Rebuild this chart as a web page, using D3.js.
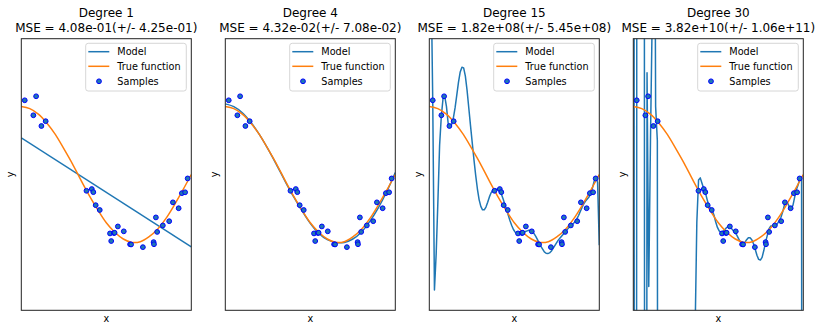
<!DOCTYPE html>
<html>
<head>
<meta charset="utf-8">
<script src="https://cdn.jsdelivr.net/npm/d3@7"></script>
<style>
  body { margin: 0; background: #fff; }
  svg { display: block; font-family: "DejaVu Sans", sans-serif; }
</style>
</head>
<body>
<svg id="chart" width="821" height="331"></svg>
<script>
// Noisy samples of the target function
const sampleX = [0.0202, 0.0710, 0.0871, 0.1183, 0.1434, 0.3834, 0.4147, 0.4237, 0.4376, 0.4615,
                 0.5218, 0.5289, 0.5449, 0.5488, 0.5680, 0.6028, 0.6399, 0.6459, 0.7152, 0.7782,
                 0.7805, 0.7917, 0.7992, 0.8326, 0.8700, 0.8918, 0.9256, 0.9447, 0.9637, 0.9786];
const sampleY = [1.093, 0.872, 1.152, 0.714, 0.785, -0.240, -0.214, -0.260, -0.452, -0.523,
                 -0.868, -0.980, -0.862, -0.858, -0.765, -0.837, -1.028, -1.030, -1.070, -0.996,
                 -1.027, -0.632, -0.846, -0.750, -0.688, -0.410, -0.497, -0.275, -0.262, -0.058];

// Panel titles
const degrees = [1, 4, 15, 30];
const mseMean = ["4.08e-01", "4.32e-02", "1.82e+08", "3.82e+10"];
const mseStd  = ["4.25e-01", "7.08e-02", "5.45e+08", "1.06e+11"];

// Smooth curves, read at x = 0, 0.05, ..., 1
const smoothX = [0, 0.05, 0.1, 0.15, 0.2, 0.25, 0.3, 0.35, 0.4, 0.45, 0.5,
                 0.55, 0.6, 0.65, 0.7, 0.75, 0.8, 0.85, 0.9, 0.95, 1];
const trueY = [1.00, 0.97, 0.89, 0.76, 0.59, 0.38, 0.16, -0.08, -0.31, -0.52, -0.71,
               -0.85, -0.95, -1.00, -0.99, -0.92, -0.81, -0.65, -0.45, -0.23, 0.00];
const model4Y = [1.04, 1.00, 0.91, 0.77, 0.59, 0.38, 0.15, -0.09, -0.32, -0.53, -0.72,
                 -0.87, -0.96, -1.00, -1.00, -0.95, -0.85, -0.69, -0.49, -0.25, 0.03];

// Degree 1: straight line end points
const model1X = [0, 1];
const model1Y = [0.541, -1.066];

// High-degree models, read on 100 evenly spaced test points
const model15Y = [
  6.0, 3.0, 1.1, -1.70, -1.17, -0.40, 0.43, 0.86, 1.12, 1.15,
  1.00, 0.75, 0.70, 0.74, 0.83, 0.98, 1.17, 1.36, 1.51, 1.58,
  1.57, 1.45, 1.24, 0.98, 0.72, 0.47, 0.22, -0.01, -0.21, -0.37,
  -0.47, -0.52, -0.52, -0.48, -0.41, -0.33, -0.27, -0.23, -0.215, -0.215,
  -0.23, -0.25, -0.29, -0.36, -0.44, -0.52, -0.60, -0.68, -0.75, -0.81,
  -0.85, -0.87, -0.875, -0.87, -0.86, -0.85, -0.84, -0.83, -0.82, -0.82,
  -0.84, -0.87, -0.91, -0.96, -1.01, -1.06, -1.10, -1.14, -1.16, -1.165,
  -1.155, -1.13, -1.09, -1.05, -1.01, -0.97, -0.94, -0.91, -0.88, -0.85,
  -0.82, -0.79, -0.77, -0.75, -0.72, -0.69, -0.65, -0.60, -0.54, -0.48,
  -0.43, -0.39, -0.36, -0.33, -0.28, -0.20, -0.10, -0.03, -0.12, -1.04
];
const model30Y = [
  40, -40, 1.1, 80, 300, 300, 30, -30, 1.5, -1.65,
  0.5, 2.3, 8, 1.0, 0.5, -30, -200, -300, -300, -300,
  -300, -300, -300, -300, -300, -300, -300, -300, -300, -300,
  -200, -120, -60, -30, -14, -6, -2.3, -0.7, -0.08, -0.05,
  -0.13, -0.21, -0.27, -0.37, -0.46, -0.50, -0.53, -0.60, -0.70, -0.78,
  -0.83, -0.85, -0.84, -0.82, -0.79, -0.77, -0.77, -0.79, -0.82, -0.85,
  -0.88, -0.93, -0.98, -1.01, -1.02, -1.00, -0.96, -0.93, -0.93, -0.96,
  -1.02, -1.10, -1.19, -1.25, -1.26, -1.22, -1.12, -1.00, -0.90, -0.80,
  -0.76, -0.76, -0.77, -0.76, -0.72, -0.68, -0.63, -0.55, -0.45, -0.41,
  -0.43, -0.48, -0.50, -0.45, -0.33, -0.22, -0.15, -0.06, -0.04, -40
];
const testX = d3.range(100).map(i => i / 99);

const legendLabels = ["Model", "True function", "Samples"];

const modelColor = "#1f77b4";
const trueColor = "#ff7f0e";

const panels = [
  { xs: model1X, ys: model1Y, curve: d3.curveLinear },
  { xs: smoothX, ys: model4Y, curve: d3.curveCatmullRom },
  { xs: testX,   ys: model15Y, curve: d3.curveLinear },
  { xs: testX,   ys: model30Y, curve: d3.curveLinear }
];

const svg = d3.select("#chart");
const plotTop = 38.7, plotH = 271.6, plotW = 170, firstLeft = 21.3, step = 204;

panels.forEach((p, i) => {
  const left = firstLeft + i * step;
  const x = d3.scaleLinear().domain([0, 1]).range([left, left + plotW]);
  const y = d3.scaleLinear().domain([-2, 2]).range([plotTop + plotH, plotTop]);
  const g = svg.append("g");

  const clipId = "clip" + i;
  g.append("clipPath").attr("id", clipId)
    .append("rect").attr("x", left).attr("y", plotTop).attr("width", plotW).attr("height", plotH);

  const plot = g.append("g").attr("clip-path", `url(#${clipId})`);

  const modelLine = d3.line().x((d, k) => x(p.xs[k])).y(d => y(d)).curve(p.curve);
  plot.append("path").attr("d", modelLine(p.ys))
    .attr("fill", "none").attr("stroke", modelColor).attr("stroke-width", 1.5)
    .attr("stroke-linejoin", "round");

  const trueLine = d3.line().x((d, k) => x(smoothX[k])).y(d => y(d)).curve(d3.curveCatmullRom);
  plot.append("path").attr("d", trueLine(trueY))
    .attr("fill", "none").attr("stroke", trueColor).attr("stroke-width", 1.5);

  plot.selectAll("circle").data(sampleY).join("circle")
    .attr("cx", (d, k) => x(sampleX[k])).attr("cy", d => y(d)).attr("r", 2.4)
    .attr("fill", modelColor).attr("stroke", "#0000ff").attr("stroke-width", 1);

  // frame
  g.append("rect").attr("x", left).attr("y", plotTop).attr("width", plotW).attr("height", plotH)
    .attr("fill", "none").attr("stroke", "#222").attr("stroke-width", 1);

  // titles
  const cx = left + plotW / 2;
  g.append("text").attr("x", cx).attr("y", 17.2).attr("text-anchor", "middle")
    .attr("font-size", 12).attr("fill", "#000").text("Degree " + degrees[i]);
  g.append("text").attr("x", cx).attr("y", 32).attr("text-anchor", "middle")
    .attr("font-size", 12).attr("fill", "#000")
    .text(`MSE = ${mseMean[i]}(+/- ${mseStd[i]})`);

  // axis labels
  g.append("text").attr("x", cx).attr("y", 321.5).attr("text-anchor", "middle")
    .attr("font-size", 9.7).attr("fill", "#000").text("x");
  g.append("text").attr("transform", `translate(${left - 7.5},${plotTop + plotH / 2}) rotate(-90)`)
    .attr("text-anchor", "middle").attr("font-size", 9.7).attr("fill", "#000").text("y");

  // legend
  const lx = left + 64.4, ly = 43.3;
  const lg = g.append("g");
  lg.append("rect").attr("x", lx).attr("y", ly).attr("width", 100.6).attr("height", 47.7)
    .attr("rx", 2.5).attr("fill", "#fff").attr("fill-opacity", 0.8)
    .attr("stroke", "#ccc").attr("stroke-width", 0.8);
  const rowY = [51.7, 66.3, 81.3];
  [modelColor, trueColor].forEach((c, k) => {
    lg.append("line").attr("x1", left + 67).attr("x2", left + 88)
      .attr("y1", rowY[k]).attr("y2", rowY[k])
      .attr("stroke", c).attr("stroke-width", 1.5);
  });
  lg.append("circle").attr("cx", left + 77.7).attr("cy", rowY[2]).attr("r", 2.4)
    .attr("fill", modelColor).attr("stroke", "#0000ff").attr("stroke-width", 1);
  legendLabels.forEach((t, k) => {
    lg.append("text").attr("x", left + 96).attr("y", rowY[k] + 3.5)
      .attr("font-size", 9.7).attr("fill", "#000").text(t);
  });
});
</script>
</body>
</html>
